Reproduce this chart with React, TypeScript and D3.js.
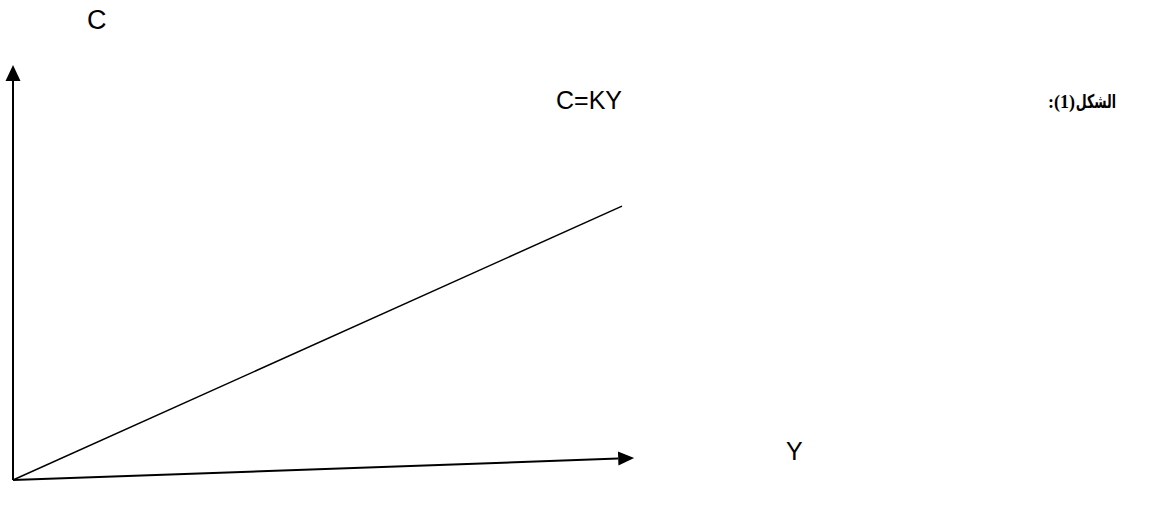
import React from "react";
import * as d3 from "d3";

// Data: income (Y) and consumption (C) for the line C = K·Y
const incomeValues = [0, 100];
const consumptionValues = [0, 66];
const axisLabels = { yAxis: "C", xAxis: "Y", line: "C=KY" };
const figureWord = "الشكل";
const figureNumber = ":(1)";

const W = 1162;
const H = 507;

export default function App() {
  const x = d3.scaleLinear().domain([0, 100]).range([13, 622]);
  const y = d3.scaleLinear().domain([0, 100]).range([480, 65]);

  const pts: [number, number][] = incomeValues.map((v, i) => [x(v), y(consumptionValues[i])]);
  const line = d3.line()(pts) || "";

  const ox = x(0);
  const oy = y(0);
  // y-axis
  const yTipY = y(100);
  const yArrow = `M${ox},${yTipY} L${ox - 7.5},${yTipY + 16} L${ox + 7.5},${yTipY + 16} Z`;
  // x-axis (slightly tilted)
  const xTip: [number, number] = [x(102), y(5.3)];
  const ang = Math.atan2(xTip[1] - oy, xTip[0] - ox);
  const len = 16, hw = 7;
  const bx = xTip[0] - len * Math.cos(ang);
  const by = xTip[1] - len * Math.sin(ang);
  const px = -Math.sin(ang) * hw;
  const py = Math.cos(ang) * hw;
  const xArrow = `M${xTip[0]},${xTip[1]} L${bx + px},${by + py} L${bx - px},${by - py} Z`;

  const arabicRight = 1116;
  const arabicScale = 0.66;

  return (
    <svg width={W} height={H} style={{ position: "absolute", left: 0, top: 0, background: "#fff" }}>
      <line x1={ox} y1={oy} x2={ox} y2={yTipY + 14} stroke="#000" strokeWidth={2} />
      <path d={yArrow} fill="#000" />
      <line x1={ox} y1={oy} x2={bx} y2={by} stroke="#000" strokeWidth={2} />
      <path d={xArrow} fill="#000" />
      <path d={line} fill="none" stroke="#000" strokeWidth={1.5} />
      <text x={87} y={29} fontFamily="Arial, 'Liberation Sans', sans-serif" fontSize={27} fill="#000">
        {axisLabels.yAxis}
      </text>
      <text x={556} y={109} fontFamily="Arial, 'Liberation Sans', sans-serif" fontSize={25} fill="#000">
        {axisLabels.line}
      </text>
      <text x={786} y={460} fontFamily="Arial, 'Liberation Sans', sans-serif" fontSize={25} fill="#000">
        {axisLabels.xAxis}
      </text>
      <text
        transform={`translate(${arabicRight},108) scale(${arabicScale},1)`}
        textAnchor="end"
        fontFamily="'DejaVu Sans', sans-serif"
        fontWeight="bold"
        fontSize={19}
        fill="#000"
      >
        {figureWord}
      </text>
      <text
        x={arabicRight - 41}
        y={108}
        textAnchor="end"
        fontFamily="'Times New Roman', 'Liberation Serif', serif"
        fontWeight="bold"
        fontSize={18}
        fill="#000"
      >
        {figureNumber}
      </text>
    </svg>
  );
}
